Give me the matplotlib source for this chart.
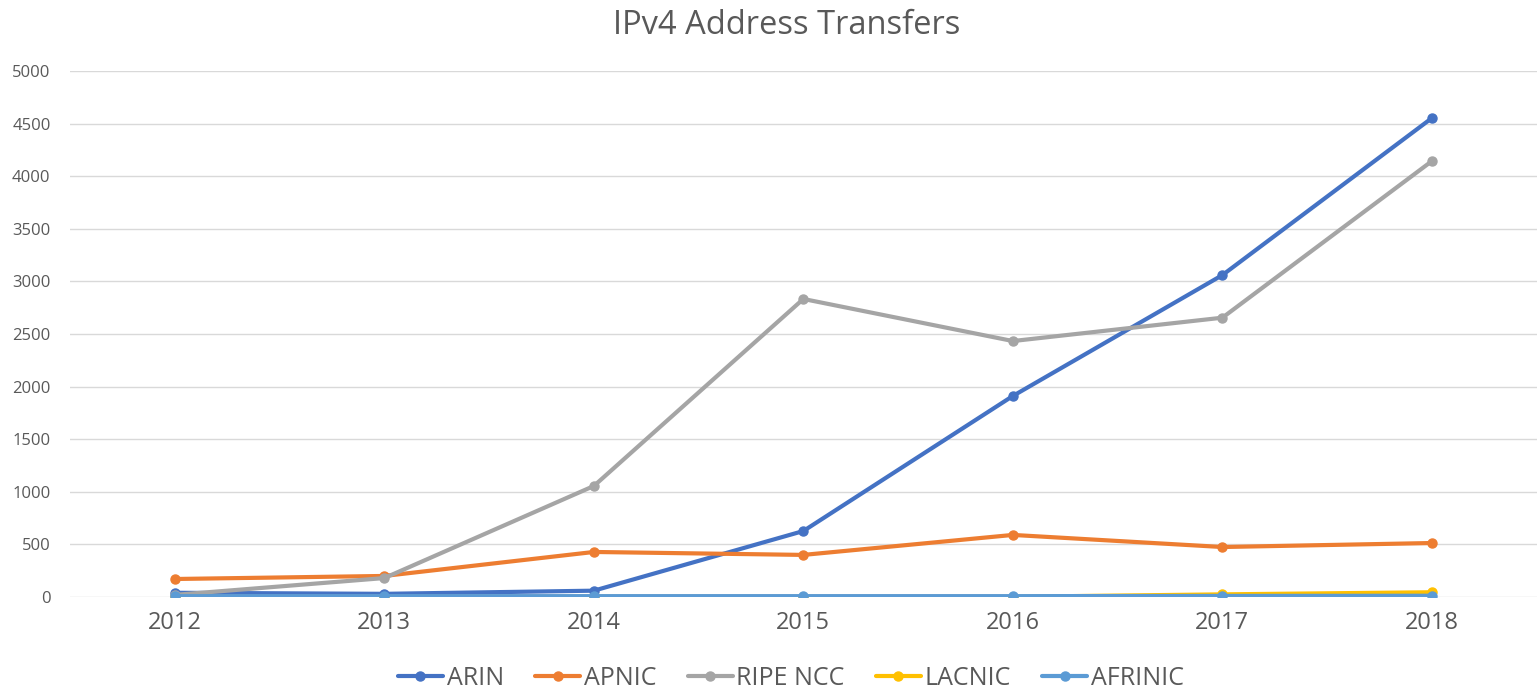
import matplotlib
matplotlib.use("Agg")
import matplotlib.pyplot as plt

years = ["2012", "2013", "2014", "2015", "2016", "2017", "2018"]
arin = [40, 30, 60, 627, 1911, 3060, 4553]
apnic = [171, 200, 428, 400, 590, 475, 513]
ripe = [20, 180, 1055, 2833, 2433, 2655, 4144]
lacnic = [2, 2, 3, 2, 2, 25, 45]
afrinic = [8, 8, 8, 8, 8, 10, 12]

series = [
    ("ARIN", arin, "#4472C4"),
    ("APNIC", apnic, "#ED7D31"),
    ("RIPE NCC", ripe, "#A5A5A5"),
    ("LACNIC", lacnic, "#FFC000"),
    ("AFRINIC", afrinic, "#5B9BD5"),
]

plt.rcParams["font.family"] = ["Open Sans", "DejaVu Sans"]
text_grey = "#595959"

fig = plt.figure(figsize=(15.39, 6.92), dpi=100)
ax = fig.add_axes([0.0455, 0.1373, 0.953, 0.7601])

x = range(len(years))
for name, vals, color in series:
    ax.plot(x, vals, color=color, linewidth=3, marker="o", markersize=6.5,
            label=name, solid_capstyle="round")

ax.set_xlim(-0.5, len(years) - 0.5)
ax.set_ylim(0, 5000)
ax.set_yticks(range(0, 5001, 500))
ax.set_xticks(list(x))
ax.set_xticklabels(years)
ax.grid(axis="y", color="#D9D9D9", linewidth=1)
ax.set_axisbelow(True)
for side in ["top", "right", "left", "bottom"]:
    ax.spines[side].set_visible(False)
ax.tick_params(axis="both", length=0, colors=text_grey)
ax.tick_params(axis="y", labelsize=12, pad=14)
ax.tick_params(axis="x", labelsize=17, pad=10)

fig.suptitle("IPv4 Address Transfers", x=0.511, y=0.987, fontsize=23.5,
             color=text_grey)
fig.legend(loc="lower center", bbox_to_anchor=(0.514, -0.031), ncol=5,
           frameon=False, fontsize=18, handlelength=1.8, columnspacing=1.25,
           handletextpad=0.15, labelcolor=text_grey)

fig.savefig("out.png", dpi=100)
